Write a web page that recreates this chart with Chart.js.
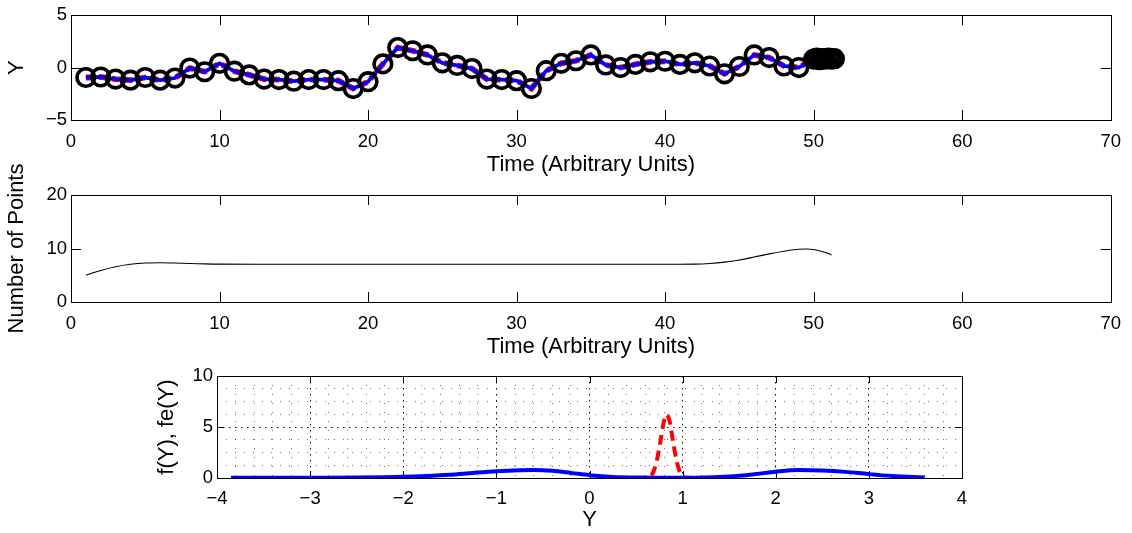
<!DOCTYPE html>
<html>
<head>
<meta charset="utf-8">
<script src="https://cdn.jsdelivr.net/npm/chart.js@4.4.1/dist/chart.umd.min.js"></script>
<style>
  html, body { margin: 0; padding: 0; background: #fff; }
  body { width: 1132px; height: 533px; position: relative; overflow: hidden; }
  canvas { position: absolute; }
</style>
</head>
<body>
<canvas id="trackChart" width="1132" height="182" style="left:0;top:0"></canvas>
<canvas id="countChart" width="1132" height="224" style="left:0;top:140px"></canvas>
<canvas id="densityChart" width="830" height="173" style="left:150px;top:360px"></canvas>
<script>
// top panel: observations over time
const trackTime = [1, 2, 3, 4, 5, 6, 7, 8, 9, 10, 11, 12, 13, 14, 15, 16, 17, 18, 19, 20,
  21, 22, 23, 24, 25, 26, 27, 28, 29, 30, 31, 32, 33, 34, 35, 36, 37, 38, 39, 40,
  41, 42, 43, 44, 45, 46, 47, 48, 49, 50, 50.2, 50.4, 50.6, 50.8, 51.0, 51.2, 51.4];
const trackY = [-0.95, -0.9, -1.1, -1.2, -0.95, -1.2, -1.0, -0.05, -0.4, 0.4,
  -0.35, -0.7, -1.1, -1.15, -1.3, -1.15, -1.15, -1.25, -2.0, -1.35,
  0.35, 1.9, 1.6, 1.2, 0.45, 0.2, -0.1, -1.1, -1.15, -1.25,
  -2.0, -0.3, 0.4, 0.65, 1.2, 0.25, 0.0, 0.3, 0.55, 0.6,
  0.3, 0.45, 0.15, -0.6, 0.1, 1.2, 0.95, 0.15, 0.0, 0.8, 0.9, 0.75, 0.85, 0.8, 0.9, 0.8, 0.85];

// middle panel: number of points
const countTime = [1, 2, 3, 4, 5, 6, 7, 8, 9, 10, 15, 20, 25, 30, 35, 40, 42, 43, 44, 45,
  46, 47, 48, 49, 49.5, 50, 50.5, 51, 51.2];
const countValues = [5.0, 5.9, 6.6, 7.05, 7.3, 7.35, 7.3, 7.2, 7.12, 7.08, 7.05, 7.05, 7.05, 7.05, 7.05, 7.05, 7.08, 7.2, 7.45, 7.85,
  8.4, 9.0, 9.5, 9.85, 9.92, 9.82, 9.5, 9.05, 8.8];

// bottom panel: densities
const densityX = [-3.85, -3.5, -3, -2.5, -2, -1.75, -1.5, -1.25, -1, -0.75, -0.6, -0.4, -0.2, 0,
  0.25, 0.5, 0.75, 1, 1.25, 1.5, 1.75, 2, 2.25, 2.5, 2.75, 3, 3.25, 3.6];
const densityF = [0.02, 0.02, 0.03, 0.05, 0.12, 0.2, 0.32, 0.5, 0.66, 0.76, 0.78, 0.7, 0.5, 0.28,
  0.1, 0.04, 0.03, 0.03, 0.06, 0.15, 0.35, 0.62, 0.78, 0.74, 0.6, 0.38, 0.2, 0.06];
const estimateX = [0.5, 0.62, 0.68, 0.72, 0.76, 0.8, 0.83, 0.86, 0.9, 0.94, 0.98, 1.02, 1.1, 1.3];
const estimateF = [0, 0.02, 0.5, 1.6, 3.5, 5.6, 6.2, 5.6, 3.4, 1.5, 0.4, 0.05, 0, 0];

// tick labels
const timeTicks = [0, 10, 20, 30, 40, 50, 60, 70];
const trackYTicks = [-5, 0, 5];
const countTicks = [0, 10, 20];
const densityXTicks = [-4, -3, -2, -1, 0, 1, 2, 3, 4];
const densityYTicks = [0, 5, 10];

const fontFamily = '"Liberation Sans", Arial, Helvetica, sans-serif';
const tickFont = { family: fontFamily, size: 18.5 };
const titleFont = { family: fontFamily, size: 22 };

const fmt = v => (v < 0 ? '\u2212' + Math.abs(v) : String(v));
const pairs = (xs, ys) => xs.map((x, i) => ({ x: x, y: ys[i] }));

// MATLAB-like box with inward tick marks
const matlabAxes = {
  id: 'matlabAxes',
  beforeDatasetsDraw(chart, args, opts) {
    const { ctx, chartArea: a, scales: { x, y } } = chart;
    ctx.save();
    ctx.strokeStyle = '#000';
    ctx.lineWidth = 1;
    ctx.beginPath();
    opts.xMarks.forEach(v => {
      const px = Math.round(x.getPixelForValue(v)) + 0.5;
      ctx.moveTo(px, a.bottom); ctx.lineTo(px, a.bottom - opts.len);
      ctx.moveTo(px, a.top); ctx.lineTo(px, a.top + opts.len);
    });
    opts.yMarks.forEach(v => {
      const py = Math.round(y.getPixelForValue(v)) + 0.5;
      ctx.moveTo(a.left, py); ctx.lineTo(a.left + opts.len, py);
      ctx.moveTo(a.right, py); ctx.lineTo(a.right - opts.len, py);
    });
    ctx.stroke();
    ctx.strokeRect(Math.round(a.left) + 0.5, Math.round(a.top) + 0.5, Math.round(a.width), Math.round(a.height));
    ctx.restore();
  }
};

function axis(o) {
  return {
    type: 'linear',
    min: o.min,
    max: o.max,
    afterBuildTicks: s => { s.ticks = o.values.map(v => ({ value: v })); },
    afterFit: s => { if (o.width) s.width = o.width; if (o.height) s.height = o.height; },
    grid: o.grid || { display: false, drawTicks: false },
    border: o.border || { display: false },
    ticks: {
      color: '#000',
      font: tickFont,
      padding: o.pad,
      autoSkip: false,
      maxRotation: 0,
      callback: v => (o.labels.some(l => Math.abs(l - v) < 1e-9) ? fmt(Math.round(v)) : '')
    },
    title: { display: true, text: o.title, color: '#000', font: titleFont, padding: o.titlePad || 4 }
  };
}

const baseOptions = {
  responsive: false,
  animation: false,
  devicePixelRatio: 1,
  events: []
};

// top chart
new Chart(document.getElementById('trackChart').getContext('2d'), {
  type: 'line',
  data: {
    datasets: [
      {
        data: pairs(trackTime, trackY),
        showLine: false,
        pointRadius: 8.8,
        pointBorderWidth: 3.6,
        pointBorderColor: '#000',
        pointBackgroundColor: 'rgba(0,0,0,0)',
        order: 1
      },
      {
        data: pairs(trackTime, trackY),
        borderColor: '#0000ff',
        borderWidth: 3.8,
        pointRadius: 0,
        order: 2
      },
      {
        data: pairs(trackTime, trackY),
        borderColor: '#ff0000',
        borderWidth: 5.8,
        borderDash: [8, 5],
        pointRadius: 0,
        order: 3
      }
    ]
  },
  options: {
    ...baseOptions,
    layout: { padding: { top: 15, right: 20, left: 0, bottom: 0 } },
    scales: {
      x: axis({ min: 0, max: 70, values: timeTicks, labels: timeTicks, height: 62, pad: 11, title: 'Time (Arbitrary Units)' }),
      y: axis({ min: -5, max: 5, values: trackYTicks, labels: trackYTicks, width: 71, pad: 4, title: 'Y' })
    },
    plugins: {
      legend: { display: false },
      tooltip: { enabled: false },
      matlabAxes: { xMarks: timeTicks, yMarks: trackYTicks, len: 10 }
    }
  },
  plugins: [matlabAxes]
});

// middle chart
new Chart(document.getElementById('countChart').getContext('2d'), {
  type: 'line',
  data: {
    datasets: [{
      data: pairs(countTime, countValues),
      borderColor: '#000',
      borderWidth: 1.1,
      pointRadius: 0,
      tension: 0.35
    }]
  },
  options: {
    ...baseOptions,
    layout: { padding: { top: 55, right: 20, left: 0, bottom: 0 } },
    scales: {
      x: axis({ min: 0, max: 70, values: timeTicks, labels: timeTicks, height: 62, pad: 11, title: 'Time (Arbitrary Units)' }),
      y: axis({ min: 0, max: 20, values: countTicks, labels: countTicks, width: 71, pad: 4, title: 'Number of Points' })
    },
    plugins: {
      legend: { display: false },
      tooltip: { enabled: false },
      matlabAxes: { xMarks: timeTicks, yMarks: countTicks, len: 10 }
    }
  },
  plugins: [matlabAxes]
});

// bottom chart, with dotted major/minor grid
const gridX = [];
for (let i = -20; i <= 20; i++) gridX.push(i / 5);
const gridY = [];
for (let i = 0; i <= 8; i++) gridY.push(i * 1.25);
const isMajor = (v, list) => list.some(l => Math.abs(l - v) < 1e-9);

function dottedGrid(majors) {
  return {
    grid: {
      display: true,
      drawTicks: false,
      lineWidth: 1,
      color: c => (isMajor(c.tick.value, majors) ? 'rgba(0,0,0,0.95)' : 'rgba(0,0,0,0.55)')
    },
    border: {
      display: false,
      dash: c => (isMajor(c.tick.value, majors) ? [1.5, 4.5] : [1, 8])
    }
  };
}

const bx = dottedGrid(densityXTicks);
const by = dottedGrid(densityYTicks);

new Chart(document.getElementById('densityChart').getContext('2d'), {
  type: 'line',
  data: {
    datasets: [
      {
        data: pairs(densityX, densityF),
        borderColor: '#0000ff',
        borderWidth: 4,
        pointRadius: 0,
        cubicInterpolationMode: 'monotone',
        order: 1
      },
      {
        data: pairs(estimateX, estimateF),
        borderColor: '#ff0000',
        borderWidth: 4,
        borderDash: [10, 6],
        pointRadius: 0,
        cubicInterpolationMode: 'monotone',
        order: 2
      }
    ]
  },
  options: {
    ...baseOptions,
    layout: { padding: { top: 16, right: 18, left: 0, bottom: 0 } },
    scales: {
      x: axis({ min: -4, max: 4, values: gridX, labels: densityXTicks, height: 55, pad: 10, title: 'Y', titlePad: { top: 4, bottom: 0 }, grid: bx.grid, border: bx.border }),
      y: axis({ min: 0, max: 10, values: gridY, labels: densityYTicks, width: 67, pad: 4, title: 'f(Y), fe(Y)', grid: by.grid, border: by.border })
    },
    plugins: {
      legend: { display: false },
      tooltip: { enabled: false },
      matlabAxes: { xMarks: densityXTicks, yMarks: densityYTicks, len: 7 }
    }
  },
  plugins: [matlabAxes]
});
</script>
</body>
</html>
